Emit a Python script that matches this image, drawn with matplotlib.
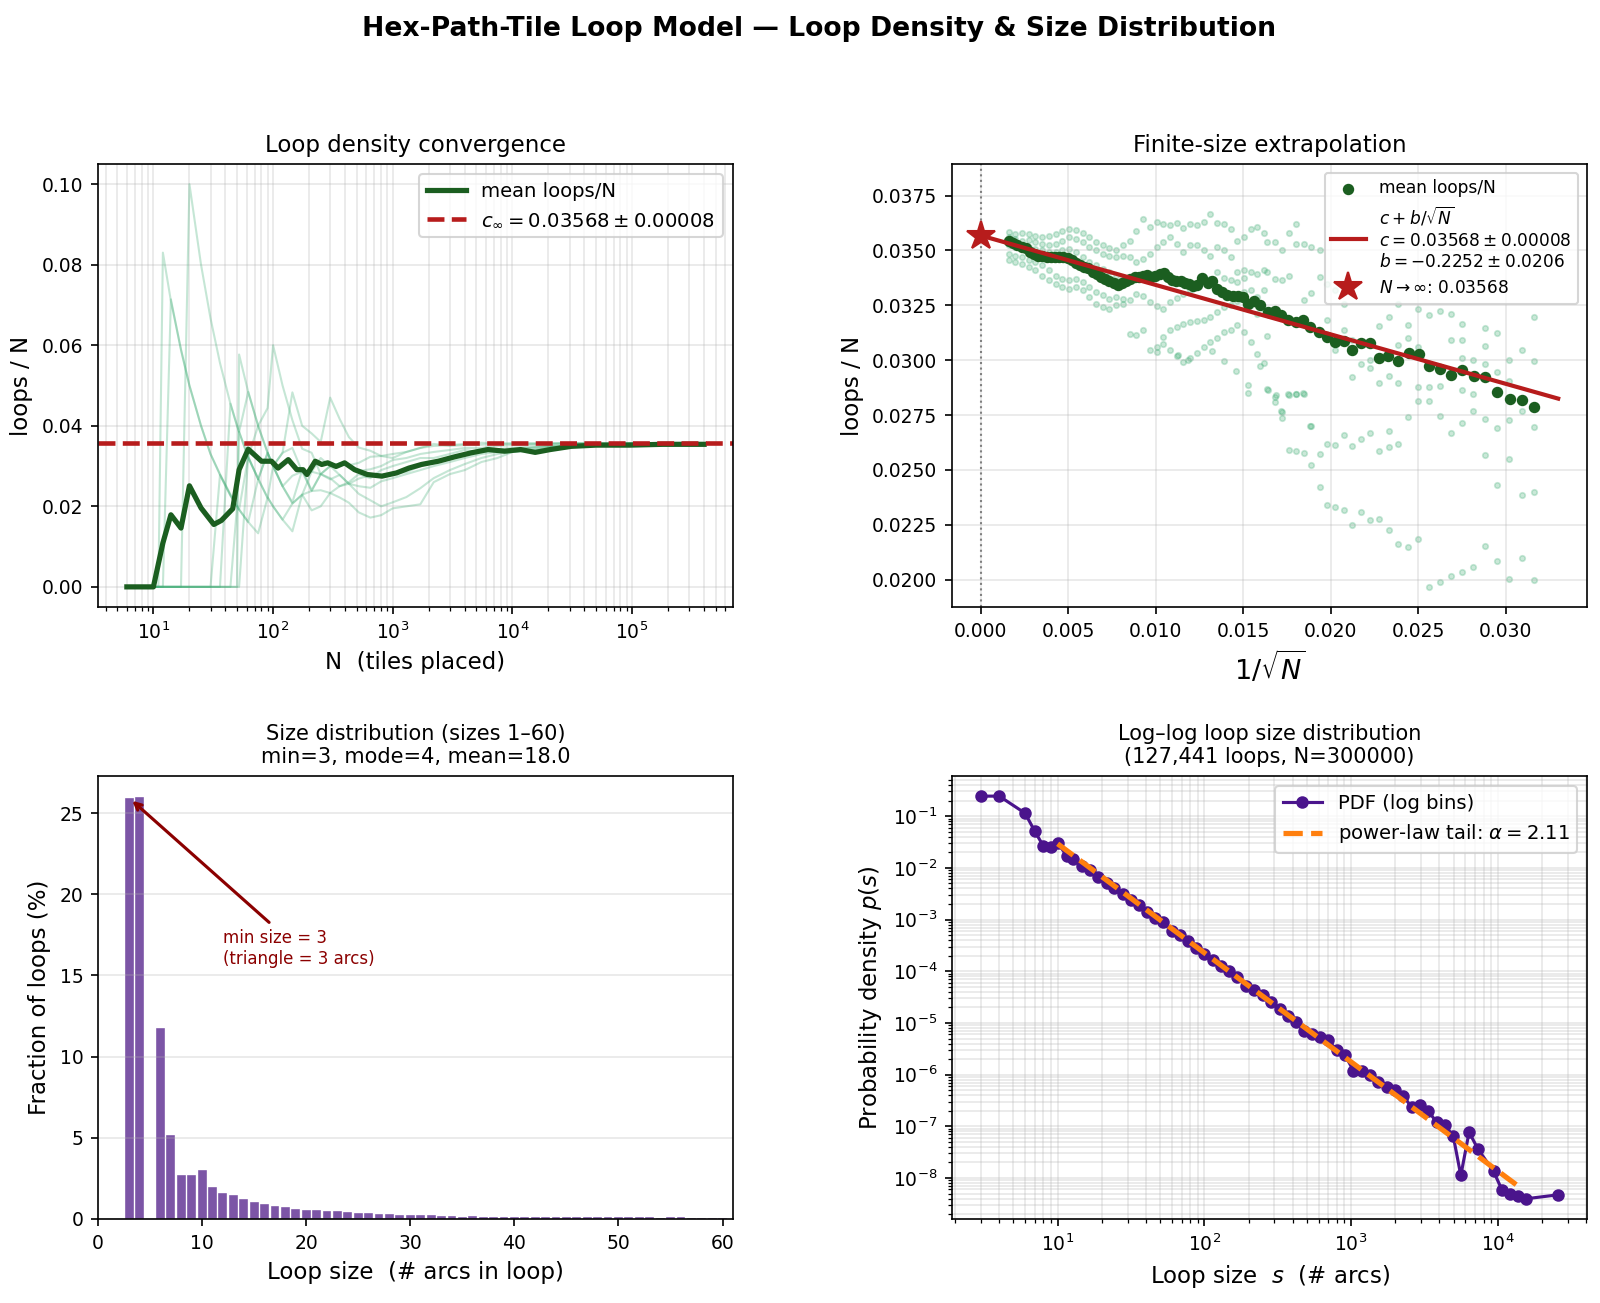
import matplotlib
matplotlib.use("Agg")
import matplotlib.pyplot as plt
import numpy as np

# ---------------- Panel 1: loop density convergence ----------------
run_N = [6, 8, 10, 11, 12, 14, 17, 20, 25, 30, 36, 44, 50, 52, 62, 75, 90, 100, 120, 145,
         175, 210, 250, 300, 360, 430, 520, 650, 800, 1000, 1300, 1700, 2200, 3000, 4000,
         5500, 7500, 10000, 14000, 20000, 30000, 45000, 70000, 100000, 160000, 250000, 400000]
run1 = [0, 0, 0, 0, 0.083, 0.071, 0.059, 0.05, 0.04, 0.033, 0.028, 0.023, 0.02, 0.0385, 0.032,
        0.027, 0.022, 0.03, 0.025, 0.021, 0.029, 0.024, 0.028, 0.027, 0.025, 0.026, 0.028, 0.027,
        0.029, 0.030, 0.031, 0.032, 0.032, 0.033, 0.034, 0.0335, 0.034, 0.034, 0.0345, 0.035,
        0.035, 0.0352, 0.0354, 0.0355, 0.0355, 0.0356, 0.0357]
run2 = [0, 0, 0, 0, 0, 0.0714, 0.0588, 0.05, 0.04, 0.033, 0.0278, 0.0227, 0.02, 0.0192, 0.0161,
        0.0267, 0.0222, 0.02, 0.0167, 0.0138, 0.0229, 0.0238, 0.024, 0.0233, 0.025, 0.0256, 0.025,
        0.0246, 0.0262, 0.027, 0.028, 0.029, 0.030, 0.031, 0.032, 0.033, 0.0335, 0.034, 0.0345,
        0.0348, 0.035, 0.0352, 0.0353, 0.0354, 0.0355, 0.0356, 0.0356]
run3 = [0, 0, 0, 0, 0, 0, 0, 0.10, 0.08, 0.0667, 0.0556, 0.0455, 0.04, 0.0385, 0.0323, 0.0267,
        0.0333, 0.03, 0.025, 0.0276, 0.0286, 0.0286, 0.028, 0.030, 0.0306, 0.0302, 0.0308, 0.0323,
        0.0325, 0.033, 0.0335, 0.0345, 0.0355, 0.035, 0.0352, 0.0353, 0.0355, 0.0356, 0.0355,
        0.0356, 0.0357, 0.0356, 0.0357, 0.0357, 0.0357, 0.0357, 0.0357]
run4 = [0, 0, 0, 0, 0, 0, 0, 0, 0, 0, 0, 0, 0, 0.0577, 0.0484, 0.04, 0.0333, 0.03, 0.025, 0.0207,
        0.0229, 0.019, 0.020, 0.0233, 0.0222, 0.0209, 0.0185, 0.0172, 0.0178, 0.0195, 0.020,
        0.0205, 0.026, 0.028, 0.029, 0.031, 0.032, 0.0335, 0.0338, 0.0345, 0.035, 0.0352, 0.0354,
        0.0355, 0.0356, 0.0357, 0.0357]
run5 = [0, 0, 0, 0, 0, 0, 0, 0, 0, 0, 0, 0.0455, 0.04, 0.0385, 0.0484, 0.04, 0.0333, 0.03, 0.0333,
        0.0345, 0.0286, 0.0238, 0.028, 0.0267, 0.0278, 0.0256, 0.0269, 0.0277, 0.0275, 0.028,
        0.0285, 0.030, 0.031, 0.032, 0.033, 0.034, 0.0342, 0.0345, 0.0348, 0.035, 0.0352, 0.0353,
        0.0355, 0.0356, 0.0356, 0.0357, 0.0357]
run6 = [0, 0, 0, 0, 0, 0, 0, 0, 0, 0, 0, 0, 0, 0, 0.0323, 0.04, 0.0444, 0.06, 0.05, 0.0414, 0.0343,
        0.0333, 0.028, 0.03, 0.0306, 0.0302, 0.0288, 0.0292, 0.030, 0.0315, 0.032, 0.033, 0.0335,
        0.034, 0.0345, 0.0345, 0.035, 0.0352, 0.0353, 0.0355, 0.0356, 0.0356, 0.0356, 0.0357,
        0.0357, 0.0357, 0.0357]
run7 = [0, 0, 0, 0, 0, 0, 0, 0, 0, 0, 0, 0, 0.02, 0.0192, 0.0323, 0.0267, 0.0333, 0.03, 0.0333,
        0.0483, 0.04, 0.0381, 0.036, 0.047, 0.0417, 0.0372, 0.0346, 0.0338, 0.0325, 0.032, 0.0335,
        0.0345, 0.035, 0.0352, 0.0355, 0.0358, 0.0356, 0.0356, 0.0357, 0.0356, 0.0357, 0.0357,
        0.0357, 0.0357, 0.0357, 0.0357, 0.0357]
run8 = [0, 0, 0, 0, 0, 0, 0, 0, 0, 0, 0.0278, 0.0227, 0.02, 0.0192, 0.0161, 0.0133, 0.0222, 0.02,
        0.0167, 0.0207, 0.0229, 0.0286, 0.032, 0.030, 0.0278, 0.0256, 0.0231, 0.0215, 0.020, 0.021,
        0.0223, 0.0245, 0.027, 0.029, 0.0305, 0.032, 0.033, 0.0335, 0.034, 0.0345, 0.035, 0.0352,
        0.0354, 0.0355, 0.0356, 0.0356, 0.0357]
runs = [run1, run2, run3, run4, run5, run6, run7, run8]

mean_N = [6, 7, 8, 9, 10, 12, 14, 17, 20, 25, 32, 37, 46, 52, 62, 80, 97, 110, 134, 158, 178, 192,
          225, 255, 286, 336, 396, 480, 614, 813, 1076, 1365, 1740, 2400, 3300, 4550, 6250, 8600,
          11700, 15500, 20700, 31000, 50000, 95000, 180000, 400000]
mean_density = [0, 0, 0, 0, 0, 0.0109, 0.0179, 0.0146, 0.0251, 0.0196, 0.0155, 0.0165, 0.0194,
                0.0291, 0.0342, 0.0312, 0.0312, 0.0295, 0.0316, 0.0291, 0.0291, 0.0279, 0.0312,
                0.0304, 0.0308, 0.0299, 0.0308, 0.0291, 0.0279, 0.0275, 0.0283, 0.0295, 0.0304,
                0.0312, 0.0323, 0.0333, 0.0341, 0.0337, 0.0341, 0.0334, 0.0341, 0.0349, 0.0352,
                0.0352, 0.0354, 0.0354]

c_inf = 0.03568
c_err = 0.00008
b_fit = -0.2252
b_err = 0.0206

# ---------------- Panel 2: finite-size extrapolation ----------------
inv_sqrt_N = [0.00160, 0.00184, 0.00208, 0.00232, 0.00256, 0.00280, 0.00304, 0.00328, 0.00352,
              0.00376, 0.00400, 0.00423, 0.00447, 0.00471, 0.00495, 0.00519, 0.00543, 0.00567,
              0.00591, 0.00615, 0.00639, 0.00663, 0.00687, 0.00711, 0.00734, 0.00758, 0.00782,
              0.00806, 0.00830, 0.00854, 0.00878, 0.00902, 0.00926, 0.00950, 0.00974, 0.00998,
              0.01022, 0.01045, 0.01069, 0.01093, 0.01117, 0.01141, 0.01165, 0.01189, 0.01213,
              0.01237, 0.01266, 0.01297, 0.01321, 0.01352, 0.01380, 0.01409, 0.01440, 0.01471,
              0.01500, 0.01529, 0.01562, 0.01596, 0.01639, 0.01679, 0.01715, 0.01758, 0.01801,
              0.01840, 0.01883, 0.01931, 0.01978, 0.02026, 0.02074, 0.02122, 0.02175, 0.02225,
              0.02275, 0.02330, 0.02385, 0.02445, 0.02505, 0.02560, 0.02624, 0.02689, 0.02751,
              0.02816, 0.02880, 0.02952, 0.03022, 0.03093, 0.03163]
mean_loops_per_N = [0.03541, 0.03533, 0.03526, 0.03518, 0.03513, 0.03495, 0.03485, 0.03475, 0.03475,
                    0.03472, 0.03472, 0.03472, 0.03469, 0.03469, 0.03465, 0.03457, 0.03442, 0.03435,
                    0.03424, 0.03419, 0.03404, 0.03394, 0.03381, 0.03369, 0.03359, 0.03351, 0.03343,
                    0.03351, 0.03359, 0.03369, 0.03378, 0.03381, 0.03384, 0.03389, 0.03381, 0.03384,
                    0.03394, 0.03397, 0.03381, 0.03366, 0.03362, 0.03359, 0.03354, 0.03348, 0.03339,
                    0.03343, 0.03374, 0.03351, 0.03363, 0.03324, 0.03313, 0.03298, 0.03293, 0.03293,
                    0.03290, 0.03257, 0.03268, 0.03252, 0.03218, 0.03222, 0.03204, 0.03184, 0.03172,
                    0.03184, 0.03151, 0.03127, 0.03105, 0.03081, 0.03086, 0.03048, 0.03078, 0.03078,
                    0.03010, 0.03017, 0.02995, 0.03035, 0.03029, 0.02972, 0.02961, 0.02934, 0.02954,
                    0.02926, 0.02922, 0.02854, 0.02823, 0.02817, 0.02785]
fit_x_max = 0.033

# individual runs (faint points)
faint_dense_x = [0.00158, 0.00196, 0.00235, 0.00273, 0.00312, 0.0035, 0.00388, 0.00427, 0.00465,
                 0.00504, 0.00542, 0.00581, 0.00619, 0.00658, 0.00696, 0.00735, 0.00773, 0.00812]
faint_dense_runs = [
    [0.03583, 0.03576, 0.03579, 0.03573, 0.03568, 0.03561, 0.03564, 0.03576, 0.03588, 0.03598,
     0.03594, 0.03579, 0.03561, 0.03538, 0.03523, 0.03512, 0.03500, 0.03523],
    [0.03561, 0.03553, 0.03545, 0.03548, 0.03538, 0.03530, 0.03523, 0.03530, 0.03545, 0.03561,
     0.03553, 0.03538, 0.03515, 0.03500, 0.03485, 0.03477, 0.03470, 0.03477],
    [0.03523, 0.03515, 0.03508, 0.03500, 0.03492, 0.03485, 0.03477, 0.03470, 0.03462, 0.03455,
     0.03447, 0.03432, 0.03417, 0.03394, 0.03371, 0.03356, 0.03341, 0.03348],
    [0.03485, 0.03477, 0.03470, 0.03455, 0.03447, 0.03432, 0.03409, 0.03386, 0.03371, 0.03364,
     0.03371, 0.03356, 0.03333, 0.03311, 0.03295, 0.03280, 0.03288, 0.03280],
    [0.03455, 0.03447, 0.03439, 0.03424, 0.03409, 0.03386, 0.03364, 0.03348, 0.03333, 0.03326,
     0.03333, 0.03318, 0.03288, 0.03258, 0.03242, 0.03235, 0.03250, 0.03258],
    [0.03545, 0.03533, 0.03523, 0.03515, 0.03508, 0.03500, 0.03492, 0.03492, 0.03500, 0.03508,
     0.03492, 0.03470, 0.03447, 0.03432, 0.03417, 0.03402, 0.03386, 0.03379],
]
faint_mid_x = [0.0085, 0.00888, 0.00927, 0.00965, 0.01004, 0.01042, 0.01081, 0.01119, 0.01158,
               0.01196, 0.01235, 0.01273, 0.01312, 0.0135, 0.01388, 0.01427, 0.01465, 0.01504,
               0.01542, 0.01581, 0.01619]
faint_mid_runs = [
    [0.03545, 0.03591, 0.03644, 0.03606, 0.03629, 0.03621, 0.03614, 0.03624, 0.03603, 0.03621,
     0.03614, 0.03629, 0.03667, 0.03624, 0.03621, 0.03598, 0.03545, 0.03561, 0.03598, 0.03606,
     0.03579],
    [0.03470, 0.03447, 0.03462, 0.03485, 0.03515, 0.03538, 0.03561, 0.03530, 0.03492, 0.03523,
     0.03523, 0.03500, 0.03477, 0.03515, 0.03500, 0.03470, 0.03402, 0.03409, 0.03402, 0.03391,
     0.03409],
    [0.03273, 0.03300, 0.03291, 0.03265, 0.03245, 0.03235, 0.03265, 0.03285, 0.03303, 0.03318,
     0.03336, 0.03361, 0.03371, 0.03402, 0.03376, 0.03367, 0.03356, 0.03376, 0.03318, 0.03288,
     0.03318],
    [0.03118, 0.03114, 0.03136, 0.03045, 0.03038, 0.03106, 0.03136, 0.03152, 0.03167, 0.03174,
     0.03179, 0.03185, 0.03197, 0.03220, 0.03242, 0.03250, 0.03270, 0.03311, 0.03250, 0.03212,
     0.03235],
]
faint_low_x = [0.01004, 0.01042, 0.01081, 0.01119, 0.01158, 0.01196, 0.01235, 0.01273, 0.01312,
               0.0135, 0.01388, 0.01427, 0.01465, 0.01504, 0.01542, 0.01581, 0.01619,
               0.01129, 0.01184, 0.01321, 0.01392, 0.01457, 0.01524, 0.01529, 0.01596, 0.01644,
               0.01687, 0.01715, 0.01758, 0.01799, 0.0184, 0.01883]
faint_low_y = [0.03061, 0.03076, 0.03045, 0.03020, 0.02992, 0.03008, 0.03033, 0.03061, 0.03083,
               0.03103, 0.03129, 0.03136, 0.03159, 0.03129, 0.03083, 0.03030, 0.02985,
               0.03025, 0.02999, 0.03040, 0.02995, 0.02949, 0.02888, 0.02850, 0.02972, 0.02866,
               0.02843, 0.02767, 0.02846, 0.02846, 0.02850, 0.02702]
faint_col_x = [0.01638, 0.01681, 0.01719, 0.01763, 0.01802, 0.01846, 0.01888, 0.01937, 0.01981,
               0.02027, 0.02075, 0.02123, 0.02173, 0.02225, 0.02277, 0.02335, 0.02385, 0.02444,
               0.025, 0.02562, 0.02623, 0.02688, 0.0275, 0.02815, 0.02883, 0.0295, 0.03019,
               0.03092, 0.03163]
faint_col_y = [
    [0.03538, 0.03402, 0.03111, 0.02867],
    [0.03538, 0.03371, 0.02833, 0.02811],
    [0.03503, 0.03364, 0.02765, 0.02735],
    [0.03579, 0.03382, 0.02841, 0.02591],
    [0.03621, 0.03530, 0.02848, 0.02588],
    [0.03530, 0.03273, 0.02848, 0.02576],
    [0.03518, 0.03306, 0.02700, 0.02521],
    [0.03500, 0.03379, 0.02573, 0.02424],
    [0.03349, 0.03182, 0.02617, 0.02342],
    [0.03318, 0.03045, 0.02615, 0.02330],
    [0.03258, 0.03139, 0.02658, 0.02318],
    [0.03094, 0.02924, 0.02609, 0.02249],
    [0.02982, 0.02639, 0.02309],
    [0.03003, 0.02964, 0.02667, 0.02273],
    [0.03156, 0.02898, 0.02588, 0.02276],
    [0.03197, 0.02927, 0.02679, 0.02606, 0.02224],
    [0.03258, 0.03068, 0.02897, 0.02618, 0.02161],
    [0.03161, 0.03100, 0.02742, 0.02149],
    [0.03235, 0.03061, 0.02876, 0.02812, 0.02185],
    [0.03205, 0.02879, 0.02815, 0.01967],
    [0.03224, 0.02882, 0.02745, 0.01991],
    [0.03212, 0.03091, 0.02667, 0.02015],
    [0.03167, 0.03091, 0.03008, 0.02864, 0.02712, 0.02036],
    [0.03003, 0.02917, 0.02845, 0.02767, 0.02056],
    [0.03148, 0.03065, 0.02982, 0.02733, 0.02567, 0.02155],
    [0.03123, 0.02947, 0.02691, 0.02430, 0.02085],
    [0.03003, 0.02906, 0.02727, 0.02548, 0.02003],
    [0.03048, 0.02768, 0.02385, 0.02099],
    [0.03197, 0.02997, 0.02694, 0.02397, 0.01997],
]

# ---------------- Panel 3: size distribution ----------------
loop_sizes = list(range(1, 61))
loop_fraction_pct = [0, 0, 25.93, 25.99, 0, 11.74, 5.20, 2.73, 2.73, 3.00,
                     1.95, 1.60, 1.50, 1.25, 1.05, 0.95, 0.82, 0.76, 0.64, 0.53,
                     0.53, 0.47, 0.47, 0.43, 0.37, 0.37, 0.31, 0.31, 0.27, 0.27,
                     0.27, 0.27, 0.21, 0.21, 0.15, 0.21, 0.15, 0.15, 0.15, 0.15,
                     0.15, 0.11, 0.15, 0.11, 0.11, 0.11, 0.11, 0.11, 0.11, 0.11,
                     0.11, 0.11, 0.11, 0.04, 0.11, 0.11, 0.04, 0.04, 0.03, 0.03]

# ---------------- Panel 4: log-log PDF ----------------
pdf_s = [3, 4, 6, 7, 8, 9, 10, 11.5, 12.8, 14.6, 16.6, 18.9, 21.6, 24.3, 27.7, 31.5, 35.9,
         40.9, 46.3, 52.1, 60.2, 67.7, 77.1, 87.9, 100, 114, 130, 148, 167, 192, 219, 250,
         285, 325, 370, 422, 474, 540, 615, 701, 799, 910, 1037, 1183, 1347, 1535, 1750,
         1992, 2270, 2588, 2950, 3360, 3830, 4364, 4970, 5590, 6366, 7300, 9350, 10660,
         12160, 13680, 15480, 25760]
pdf_p = [0.244, 0.244, 0.114, 0.0505, 0.0263, 0.0251, 0.0305, 0.0173, 0.0150, 0.0111, 0.0089,
         0.0066, 0.0051, 0.00405, 0.00315, 0.00241, 0.00187, 0.00139, 0.00106, 0.00089,
         0.000588, 0.000492, 0.000377, 0.00028, 0.000217, 0.000162, 0.000126, 9.9e-5, 7.7e-5,
         5.07e-5, 4.37e-5, 3.4e-5, 2.52e-5, 1.87e-5, 1.39e-5, 1.04e-5, 7.14e-6, 6.16e-6,
         5.31e-6, 4.58e-6, 2.93e-6, 2.35e-6, 1.2e-6, 1.2e-6, 9.93e-7, 7.16e-7, 5.73e-7,
         4.94e-7, 3.84e-7, 2.35e-7, 2.61e-7, 1.94e-7, 1.21e-7, 1.07e-7, 6.37e-8, 1.12e-8,
         7.73e-8, 3.67e-8, 1.34e-8, 5.91e-9, 4.95e-9, 4.4e-9, 3.96e-9, 4.74e-9]
tail_alpha = 2.11
tail_s_min = 10
tail_s_max = 13500
tail_p_at_min = 0.0292

# ---------------- styling ----------------
DARK_GREEN = "#1b5e20"
FAINT_GREEN = "#41ae76"
RED = "#b71c1c"
PURPLE_BAR = "#6a3d9a"
PURPLE_LINE = "#4a148c"
ORANGE = "#ff7f0e"

plt.rcParams.update({
    "font.size": 10,
    "axes.titlesize": 11,
    "axes.labelsize": 11,
    "xtick.labelsize": 9,
    "ytick.labelsize": 9,
    "legend.fontsize": 9.4,
})

fig, axes = plt.subplots(2, 2, figsize=(1600 / 150, 1303 / 150), dpi=150)
fig.subplots_adjust(left=0.06125, right=0.9919, top=0.8741, bottom=0.0645,
                    wspace=0.345, hspace=0.3815)
fig.suptitle("Hex-Path-Tile Loop Model \u2014 Loop Density & Size Distribution",
             fontsize=12.8, fontweight="bold", x=0.512, y=0.988, va="top")

# Panel 1
ax = axes[0, 0]
for r in runs:
    ax.plot(run_N, r, color=FAINT_GREEN, lw=1.0, alpha=0.3)
ax.plot(mean_N, mean_density, color=DARK_GREEN, lw=2.5, label="mean loops/N")
ax.axhline(c_inf, color=RED, ls="--", lw=2.2,
           label=rf"$c_\infty = {c_inf:.5f} \pm {c_err:.5f}$")
ax.set_xscale("log")
ax.set_xlabel("N  (tiles placed)")
ax.set_ylabel("loops / N")
ax.set_title("Loop density convergence")
ax.grid(True, which="both", alpha=0.3)
ax.legend(loc="upper right")

# Panel 2
ax = axes[0, 1]
fx, fy = [], []
for run in faint_dense_runs:
    fx.extend(faint_dense_x)
    fy.extend(run)
for run in faint_mid_runs:
    fx.extend(faint_mid_x)
    fy.extend(run)
fx.extend(faint_low_x)
fy.extend(faint_low_y)
for xv, ys in zip(faint_col_x, faint_col_y):
    fx.extend([xv] * len(ys))
    fy.extend(ys)
ax.scatter(fx, fy, s=7, color=FAINT_GREEN, alpha=0.28, linewidths=0.8)
ax.scatter(inv_sqrt_N, mean_loops_per_N, s=20, color=DARK_GREEN, zorder=3,
           label="mean loops/N")
xfit = np.array([0.0, fit_x_max])
ax.plot(xfit, c_inf + b_fit * xfit, color=RED, lw=2.0, zorder=4,
        label=(r"$c + b/\sqrt{N}$" + "\n" + rf"$c = {c_inf:.5f} \pm {c_err:.5f}$" + "\n"
               + rf"$b = {b_fit:.4f} \pm {b_err:.4f}$"))
ax.plot([0], [c_inf], marker="*", ms=14, color=RED, ls="none", zorder=5,
        label=rf"$N \to \infty$: {c_inf:.5f}")
ax.axvline(0, color="gray", ls=":", lw=1)
ax.set_ylim(0.01875, 0.03894)
ax.set_xlabel(r"$1/\sqrt{N}$", fontsize=13)
ax.set_ylabel("loops / N")
ax.set_title("Finite-size extrapolation")
ax.grid(True, alpha=0.3)
ax.legend(loc="upper right", fontsize=8.2)

# Panel 3
ax = axes[1, 0]
ax.bar(loop_sizes, loop_fraction_pct, width=0.85, color=PURPLE_BAR, alpha=0.88,
       edgecolor="white", linewidth=0.2)
ax.set_xlim(0, 61)
ax.set_xlabel("Loop size  (# arcs in loop)")
ax.set_ylabel("Fraction of loops (%)")
ax.set_title("Size distribution (sizes 1\u201360)\nmin=3, mode=4, mean=18.0", fontsize=10)
ax.grid(True, axis="y", alpha=0.3)
ax.annotate("min size = 3\n(triangle = 3 arcs)", xy=(3, loop_fraction_pct[2]),
            xytext=(12, 15.7), color="darkred", fontsize=8,
            arrowprops=dict(arrowstyle="->", color="darkred", lw=1.5))

# Panel 4
ax = axes[1, 1]
ax.loglog(pdf_s, pdf_p, "o-", color=PURPLE_LINE, ms=5, lw=1.5, label="PDF (log bins)")
s_tail = np.logspace(np.log10(tail_s_min), np.log10(tail_s_max), 50)
ax.plot(s_tail, tail_p_at_min * (s_tail / tail_s_min) ** (-tail_alpha), "--",
        color=ORANGE, lw=2.5, label=rf"power-law tail: $\alpha = {tail_alpha:.2f}$")
ax.set_xlabel(r"Loop size  $s$  (# arcs)")
ax.set_ylabel(r"Probability density $p(s)$")
ax.set_title("Log\u2013log loop size distribution\n(127,441 loops, N=300000)", fontsize=10)
ax.grid(True, which="both", alpha=0.3)
ax.legend(loc="upper right")

fig.savefig("out.png", dpi=150)
